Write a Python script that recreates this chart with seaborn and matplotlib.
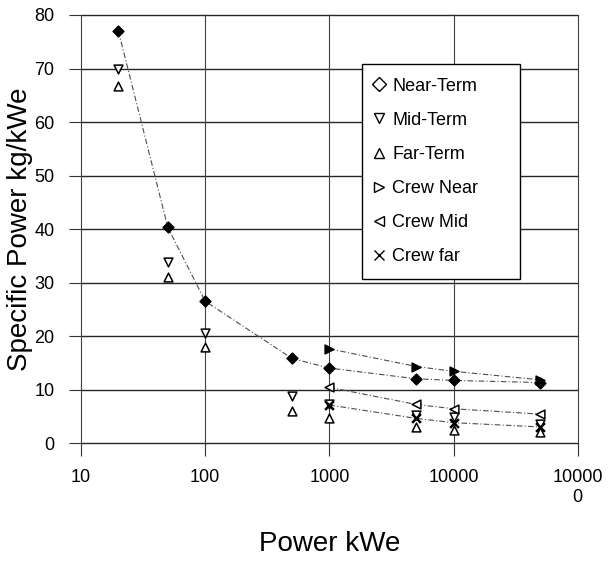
import seaborn as sns
import matplotlib.pyplot as plt
import pandas as pd
from matplotlib.lines import Line2D

# values
power_main = [20, 50, 100, 500, 1000, 5000, 10000, 50000]
near_term = [77.0, 40.3, 26.5, 15.8, 14.0, 12.0, 11.7, 11.3]
mid_term = [70.0, 33.8, 20.6, 8.8, 7.2, 5.2, 4.8, 3.6]
far_term = [66.8, 31.0, 18.0, 6.0, 4.6, 2.9, 2.4, 2.0]

power_crew = [1000, 5000, 10000, 50000]
crew_near = [17.6, 14.3, 13.4, 11.8]
crew_mid = [10.4, 7.2, 6.4, 5.4]
crew_far = [7.1, 4.6, 3.8, 3.0]

y_ticks = [0, 10, 20, 30, 40, 50, 60, 70, 80]
x_ticks = [10, 100, 1000, 10000, 100000]
x_tick_labels = ["10", "100", "1000", "10000", "10000\n0"]

sns.set_theme(style="white")
plt.rcParams["font.family"] = ["Liberation Sans", "DejaVu Sans"]
plt.rcParams["text.color"] = "black"
plt.rcParams["axes.labelcolor"] = "black"
plt.rcParams["xtick.color"] = "black"
plt.rcParams["ytick.color"] = "black"

fig = plt.figure(figsize=(6.16, 5.66), dpi=100)
ax = fig.add_axes([0.1315, 0.2173, 0.8065, 0.7562])

# series: (name, x, y, marker, filled in plot, connected by trend line)
series = [
    ("Near-Term", power_main, near_term, "D", True, True),
    ("Mid-Term", power_main, mid_term, "v", False, False),
    ("Far-Term", power_main, far_term, "^", False, False),
    ("Crew Near", power_crew, crew_near, ">", True, True),
    ("Crew Mid", power_crew, crew_mid, "<", False, True),
    ("Crew far", power_crew, crew_far, "x", True, True),
]

line_style = (0, (5, 2, 1, 2))
for name, xs, ys, marker, filled, connect in series:
    df = pd.DataFrame({"power": xs, "spec": ys})
    if connect:
        sns.lineplot(data=df, x="power", y="spec", ax=ax, color="0.3",
                     lw=0.8, linestyle=line_style, zorder=3)
    size = 30 if marker == "D" else 40
    if marker == "x":
        sns.scatterplot(data=df, x="power", y="spec", ax=ax, marker="x",
                        color="black", s=40, linewidth=1.8, zorder=4)
    else:
        sns.scatterplot(data=df, x="power", y="spec", ax=ax, marker=marker,
                        facecolor="black" if filled else "white",
                        edgecolor="black", s=size, linewidth=1.1, zorder=4)

ax.set_xscale("log")
ax.set_xlim(10, 100000)
ax.set_ylim(0, 80)

# grid lines like the scanned chart
for yv in y_ticks:
    ax.axhline(yv, color="0.15", lw=1.0, zorder=1, clip_on=False)
for xv in x_ticks:
    ax.axvline(xv, color="0.25", lw=0.8, zorder=1, clip_on=False)
for sp in ax.spines.values():
    sp.set_visible(False)

ax.set_yticks(y_ticks)
ax.set_xticks(x_ticks)
ax.set_xticklabels(x_tick_labels, fontsize=13)
ax.xaxis.set_minor_locator(plt.NullLocator())
ax.tick_params(axis="y", labelsize=13, length=9, width=0.8, color="0.2",
               direction="out", left=True, pad=10)
ax.tick_params(axis="x", length=9, width=0.8, color="0.2",
               direction="out", bottom=True, pad=10)

ax.set_xlabel("Power kWe", fontsize=20, labelpad=18)
ax.set_ylabel("Specific Power kg/kWe", fontsize=20, labelpad=1)

handles = [Line2D([], [], linestyle="none", marker=m, markersize=7,
                  markerfacecolor="white", markeredgecolor="black",
                  color="black", markeredgewidth=1.0, label=n)
           for n, _, _, m, _, _ in series]
leg = ax.legend(handles=handles, loc="upper left", mode="expand",
                bbox_to_anchor=(0.565, 0.39, 0.318, 0.4955), borderaxespad=0,
                fontsize=13, frameon=True, fancybox=False, edgecolor="black",
                labelspacing=0.95, handletextpad=0.55, borderpad=0.75,
                handlelength=0.4, framealpha=1)
leg.get_frame().set_linewidth(1.0)

fig.savefig("out.png", dpi=100)
